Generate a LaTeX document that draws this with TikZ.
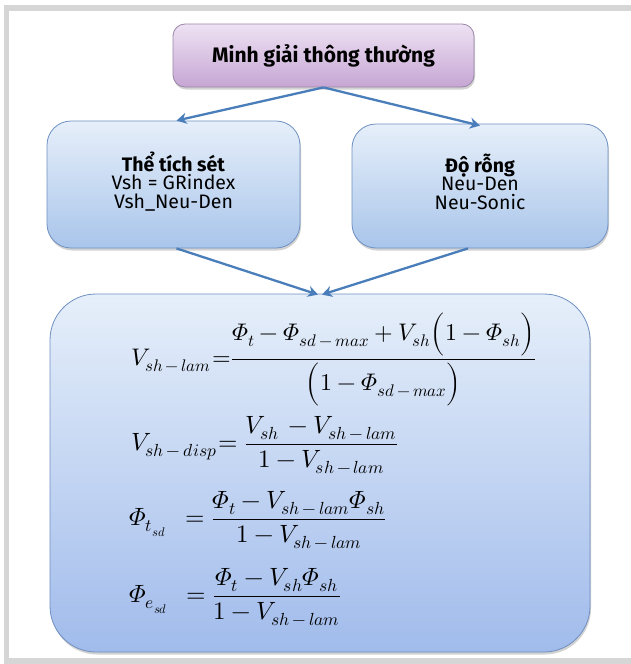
\documentclass[tikz,border=0pt]{standalone}
\usepackage{fontspec}
\usepackage[math-style=ISO]{unicode-math}
\setmainfont{Fira Sans}
\setmathfont{Latin Modern Math}
\usetikzlibrary{shadows,arrows.meta,calc}
\definecolor{framegray}{HTML}{D6D6D6}
\definecolor{purtop}{HTML}{EEE2F3}
\definecolor{purbot}{HTML}{C6A6D4}
\definecolor{purline}{HTML}{9A86A6}
\definecolor{bluetop}{HTML}{E6EFFA}
\definecolor{bluebot}{HTML}{A9C5EA}
\definecolor{blueline}{HTML}{6F90C2}
\definecolor{arrowblue}{HTML}{4A7EBB}
\tikzset{
  boxshadow/.style={drop shadow={opacity=0.35,shadow xshift=1pt,shadow yshift=-2.5pt}},
  topbox/.style={draw=purline, line width=0.8pt, rounded corners=12pt,
    top color=purtop, bottom color=purbot, boxshadow, inner sep=0pt},
  midbox/.style={draw=blueline, line width=0.8pt, rounded corners=24pt,
    top color=bluetop, bottom color=bluebot, boxshadow, inner sep=0pt},
  boxtext/.style={align=center, inner sep=0pt, font=\fontsize{19.5}{18.5}\selectfont},
  bigbox/.style={draw=blueline, line width=0.8pt, rounded corners=46pt,
    top color=bluetop, bottom color=bluebot!95!blue, boxshadow, inner sep=0pt},
  flow/.style={draw=arrowblue, line width=2.3pt, -{Stealth[length=10pt,width=11pt,inset=3pt]}},
  eq/.style={anchor=base west, inner sep=0pt, font=\fontsize{25}{30}\selectfont}
}
\begin{document}
\begin{tikzpicture}[x=1pt,y=-1pt]
\useasboundingbox (0,0) rectangle (631,664);
\fill[white] (0,0) rectangle (631,664);
\fill[framegray] (4,5) rectangle (631,11);
\fill[framegray] (4,5) rectangle (9,664);
\fill[framegray] (4,658) rectangle (631,664);

\node[topbox, minimum width=301pt, minimum height=63pt] (top) at (323.5,55.5)
  {\fontsize{21}{24}\selectfont\bfseries Minh giải thông thường};
\node[midbox, minimum width=253pt, minimum height=127pt] (left) at (173.5,184.5) {};
\node[midbox, minimum width=256pt, minimum height=124pt] (right) at (480,186) {};
\node[boxtext] (lefttxt) at ([yshift=3pt]left.center)
  {\textbf{Thể tích sét}\\Vsh = GRindex\\Vsh\_Neu-Den};
\node[boxtext] (righttxt) at ([yshift=4.5pt]right.center)
  {\textbf{Độ rỗng}\\Neu-Den\\Neu-Sonic};
\node[bigbox, minimum width=540pt, minimum height=358pt] (bot) at (320,473) {};

\draw[flow] (top.south) -- ([xshift=3pt]left.north);
\draw[flow] (top.south) -- ([yshift=-2pt]right.north);
\draw[flow] ([xshift=3pt]left.south) -- ([xshift=-2pt,yshift=-1pt]bot.north);
\draw[flow] ([xshift=-12pt]right.south) -- ([xshift=2pt,yshift=-1pt]bot.north);

\node[eq, font=\fontsize{24}{28}\selectfont] (l1) at (131,365.5) {$V_{sh\,-\,lam}$};
\node[eq, font=\fontsize{24}{28}\selectfont] (r1) at (212,365.5) {$=\mkern-5mu\dfrac{\Phi_{t}-\Phi_{sd\,-\,max}+V_{sh}\Big(1-\Phi_{sh}\Big)}{\Big(1-\Phi_{sd\,-\,max}\Big)}$};
\node[eq] (l2) at (131,450.5) {$V_{sh\,-\,disp}$};
\node[eq] (r2) at (218,450.5) {$=\dfrac{V_{sh}\,-V_{sh\,-\,lam}}{1-V_{sh\,-\,lam}}$};
\node[eq] (l3) at (129,525.5) {$\Phi_{t_{sd}}$};
\node[eq] (r3) at (185,525.5) {$=\dfrac{\Phi_{t}-V_{sh\,-\,lam}\Phi_{sh}}{1-V_{sh\,-\,lam}}$};
\node[eq] (l4) at (129,602.5) {$\Phi_{e_{sd}}$};
\node[eq] (r4) at (186,602.5) {$=\dfrac{\Phi_{t}-V_{sh}\Phi_{sh}}{1-V_{sh\,-\,lam}}$};
\end{tikzpicture}
\end{document}
